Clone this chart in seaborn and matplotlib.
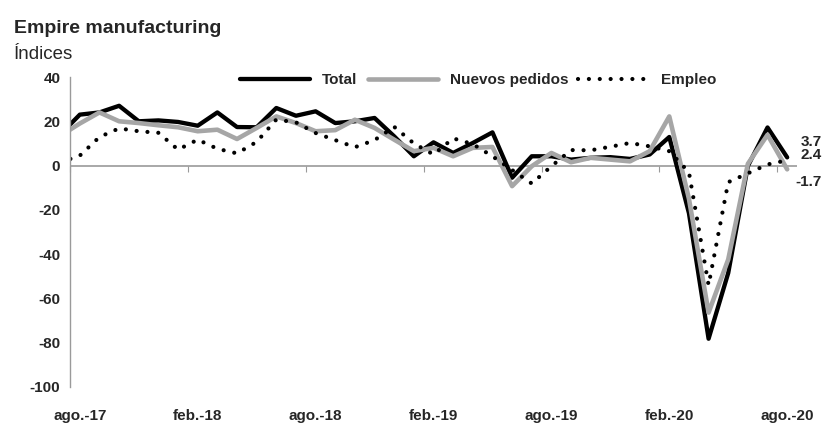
import numpy as np
import pandas as pd
import seaborn as sns
import matplotlib.pyplot as plt

# datos mensuales jul-17 .. ago-20 (jul-17 queda recortado al borde del eje)
total = [14, 23, 24, 27, 20, 20.4, 19.7, 18, 24, 17.4, 17.3, 26, 22.5,
         24.5, 19.2, 20, 21.5, 13.2, 4.2, 10.5, 5.7, 10.2, 15, -5.5, 4.2,
         4.2, 2.7, 3.5, 3.8, 3, 5, 12.9, -21.5, -78.2, -48.5, -0.2, 17.2, 3.7]
nuevos_pedidos = [13.4, 19, 24, 20, 19.2, 18.2, 17.3, 15.5, 16.2, 12, 17, 22.2, 19.2,
                  15.5, 16, 20.7, 17, 11.7, 6.5, 8, 4.2, 8, 8.4, -9.3, -0.3,
                  5.7, 1.5, 3.5, 2.7, 1.9, 6.5, 22.2, -15, -66.4, -42.4, 0.8, 13.9, -1.7]
empleo = [1.4, 4.5, 12.9, 16.8, 15.5, 14.8, 7.2, 11.7, 7.6, 5.5, 10.7, 20.8, 19.5,
          14.7, 11.5, 8.3, 11.5, 17.5, 10, 5, 12.3, 9.7, 4.2, -2, -8.1,
          -0.3, 7, 6.9, 8.5, 10.2, 8.7, 6.5, -3, -54, -7.5, -3.5, 0.5, 2.4]

etiquetas_x = ["ago.-17", "feb.-18", "ago.-18", "feb.-19", "ago.-19", "feb.-20", "ago.-20"]
pos_etiquetas = [1, 7, 13, 19, 25, 31, 37]
etiquetas_fin = ["3.7", "2.4", "-1.7"]

df = pd.DataFrame({"mes": np.arange(len(total)), "Total": total,
                   "Nuevos pedidos": nuevos_pedidos, "Empleo": empleo})

sns.set_style("white")
plt.rcParams['font.family'] = ['Liberation Sans Narrow', 'Liberation Sans', 'DejaVu Sans']
plt.rcParams['axes.unicode_minus'] = False

gris = "#A6A6A6"
gris_eje = "#9A9A9A"

fig = plt.figure(figsize=(8.27, 4.25), dpi=100)
ax = fig.add_axes([70/827, 1-387/425, 727/827, 310/425])

ax.axhline(0, color=gris_eje, lw=1.2, zorder=1)
sns.lineplot(data=df, x="mes", y="Total", ax=ax, color="black", lw=3.1, label="Total")
sns.lineplot(data=df, x="mes", y="Nuevos pedidos", ax=ax, color=gris, lw=3.3, label="Nuevos pedidos")
sns.lineplot(data=df, x="mes", y="Empleo", ax=ax, color="black", lw=3.0, label="Empleo",
             linestyle=(0, (0.01, 2.6)), dash_capstyle="round")

ax.set_xlim(0.5, len(total) - 0.5)
ax.set_ylim(-100, 40)
ax.set_yticks(np.arange(-100, 41, 20))
ax.set_xticks(pos_etiquetas)
ax.set_xticklabels(etiquetas_x)
ax.set_xlabel("")
ax.set_ylabel("")
ax.tick_params(axis="x", length=0, pad=16, labelsize=11)
ax.tick_params(axis="y", length=4, width=1, color=gris_eje, direction="out", pad=3, labelsize=11)
for lbl in ax.get_xticklabels() + ax.get_yticklabels():
    lbl.set_fontweight("bold")

for s in ["top", "right", "bottom"]:
    ax.spines[s].set_visible(False)
ax.spines["left"].set_color(gris_eje)
ax.spines["left"].set_linewidth(1)

# linea del cero con marcas entre categorias
sec = ax.secondary_xaxis(100/140)
sec.set_xticks(np.arange(0.5, len(total), 6))
sec.tick_params(axis="x", which="both", direction="out", length=4, color=gris_eje,
                bottom=True, top=False, labelbottom=False, labeltop=False)
sec.spines["bottom"].set_color(gris_eje)
sec.spines["bottom"].set_linewidth(1.2)
sec.spines["top"].set_visible(False)

# valores finales
ult = len(total) - 1
for val, txt, dy in zip([total[-1], empleo[-1], nuevos_pedidos[-1]], etiquetas_fin, [11, 3.5, -9]):
    ax.annotate(txt, xy=(ult, val), xytext=(25, dy), textcoords="offset points",
                ha="right", va="center", fontsize=11, fontweight="bold", annotation_clip=False)

ax.legend(loc="center", bbox_to_anchor=(478/827, 1-80/425), bbox_transform=fig.transFigure,
          ncol=3, frameon=False, handlelength=4.6, handletextpad=0.8, columnspacing=0.65,
          prop={"weight": "bold", "size": 11})

fig.text(14/827, 1-33/425, "Empire manufacturing", fontsize=14, fontweight="bold", va="baseline")
fig.text(14/827, 1-59/425, "Índices", fontsize=13.5, va="baseline")

fig.savefig("out.png", dpi=100)
